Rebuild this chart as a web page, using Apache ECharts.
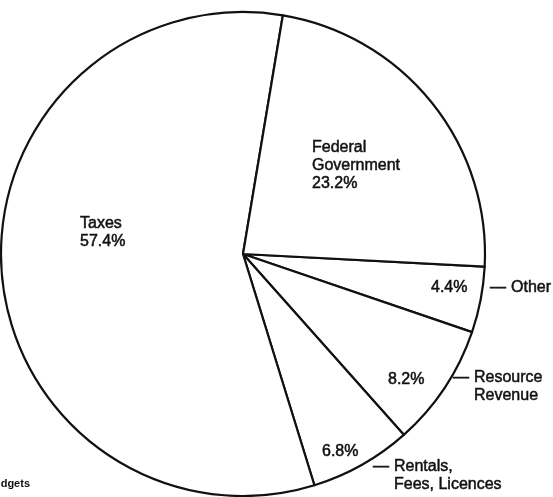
<!DOCTYPE html>
<html>
<head>
<meta charset="utf-8">
<script src="https://cdn.jsdelivr.net/npm/echarts@6/dist/echarts.min.js"></script>
<style>
  html, body { margin: 0; padding: 0; background: #fff; }
  #chart { width: 553px; height: 497px; }
</style>
</head>
<body>
<div id="chart"></div>
<script>
// Revenue sources, clockwise from the 3 o'clock line
const categories = ['Other', 'Resource Revenue', 'Rentals, Fees, Licences', 'Taxes', 'Federal Government'];
const shares = [4.4, 8.2, 6.8, 57.4, 23.2];
// Text printed inside each slice above its percentage
const innerNames = [[], [], [], ['Taxes'], ['Federal', 'Government']];
// Text printed outside the circle, led by a short dash
const outerNames = [['Other'], ['Resource', 'Revenue'], ['Rentals,', 'Fees, Licences'], [], []];
const sourceNote = 'Budgets';

// Label anchors: left edge and vertical middle of each text block
const innerPlacement = [[431, 288], [388, 380], [322, 452], [80, 233], [312, 166]];
const outerPlacement = [[490, 288], [453, 387], [373, 476], null, null];

const FONT = 'Liberation Sans, Arial, Helvetica, sans-serif';
const INK = '#111';
const chart = echarts.init(document.getElementById('chart'), null, { renderer: 'canvas' });

// Shared text look: a hair of outline gives the heavier printed weight
const textLook = {
  color: INK,
  fontFamily: FONT,
  fontSize: 16,
  lineHeight: 18,
  textBorderColor: INK,
  textBorderWidth: 0.5
};

const pieBase = {
  type: 'pie',
  center: [243, 254],
  radius: 242,
  startAngle: -3,
  clockwise: true,
  avoidLabelOverlap: false,
  animation: false,
  silent: true,
  emphasis: { disabled: true },
  labelLine: { show: false }
};

const sliceData = categories.map((name, i) => ({ name, value: shares[i] }));

chart.setOption({
  backgroundColor: '#fff',
  series: [
    Object.assign({}, pieBase, {
      name: 'slices',
      data: sliceData,
      itemStyle: { color: '#fff', borderColor: INK, borderWidth: 2.2 },
      label: Object.assign({
        show: true,
        position: 'inside',
        align: 'left',
        formatter: p => innerNames[p.dataIndex].concat([shares[p.dataIndex].toFixed(1) + '%']).join('\n')
      }, textLook),
      labelLayout: p => {
        const pos = innerPlacement[p.dataIndex];
        return { x: pos[0], y: pos[1], align: 'left', verticalAlign: 'middle' };
      }
    }),
    Object.assign({}, pieBase, {
      name: 'names',
      data: sliceData.map((d, i) => ({
        name: d.name,
        value: d.value,
        label: { show: outerNames[i].length > 0 }
      })),
      itemStyle: { color: 'rgba(0,0,0,0)', borderWidth: 0 },
      label: Object.assign({
        position: 'outside',
        align: 'left',
        formatter: p => outerNames[p.dataIndex]
          .map((line, k) => (k === 0 ? '{d|\u2014}' : '{d|\u00a0}') + '{n|' + line + '}')
          .join('\n'),
        rich: {
          d: Object.assign({ width: 21 }, textLook),
          n: Object.assign({}, textLook)
        }
      }, textLook),
      labelLayout: p => {
        const pos = outerPlacement[p.dataIndex];
        if (!pos) return {};
        return { x: pos[0], y: pos[1], align: 'left', verticalAlign: 'middle' };
      }
    })
  ],
  graphic: [{
    type: 'text',
    silent: true,
    style: {
      text: sourceNote,
      x: -14,
      y: 489,
      fill: INK,
      font: 'bold 11px ' + FONT,
      textVerticalAlign: 'bottom'
    }
  }]
});
</script>
</body>
</html>
